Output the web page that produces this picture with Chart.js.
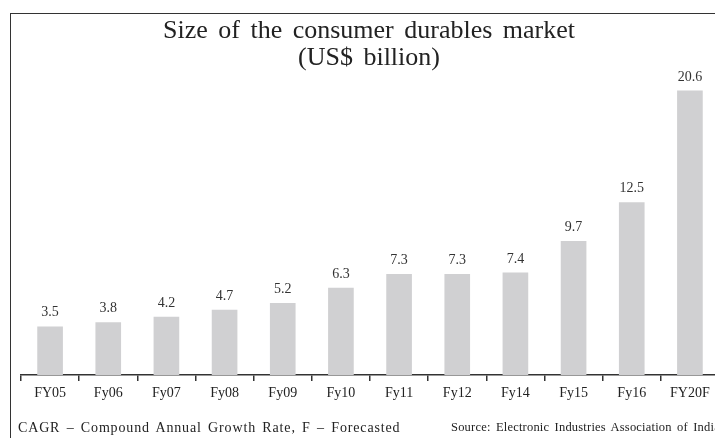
<!DOCTYPE html>
<html>
<head>
<meta charset="utf-8">
<script src="https://cdn.jsdelivr.net/npm/chart.js@4.4.0/dist/chart.umd.min.js"></script>
<style>
  html, body { margin: 0; padding: 0; background: #fff; overflow: hidden; width: 715px; height: 438px; }
  #wrap { position: relative; width: 715px; height: 438px; overflow: hidden; }
  #frame { position: absolute; left: 10px; top: 13px; width: 720px; height: 440px;
           border-left: 1px solid #333; border-top: 1px solid #333; }
  #chartBox { position: absolute; left: 0; top: 0; width: 722px; height: 438px; }
  .title { position: absolute; left: 369px; transform: translateX(-50%); white-space: nowrap;
           font-family: "Liberation Serif", serif; font-size: 26px; color: #222; word-spacing: 4px; }
  .foot { position: absolute; top: 420px; white-space: nowrap;
          font-family: "Liberation Serif", serif; font-size: 14px; color: #222; letter-spacing: 0.85px; word-spacing: 2px; }
</style>
</head>
<body>
<div id="wrap">
  <div id="frame"></div>
  <div id="chartBox"><canvas id="marketChart" width="722" height="438"></canvas></div>
  <div class="title" style="top:15px;">Size of the consumer durables market</div>
  <div class="title" style="top:42px;">(US$ billion)</div>
  <div class="foot" style="left:18px;">CAGR – Compound Annual Growth Rate, F – Forecasted</div>
  <div class="foot" style="left:451px; font-size:12.5px; letter-spacing:0.2px;">Source: Electronic Industries Association of India</div>
</div>
<script>
const years = ['FY05', 'Fy06', 'Fy07', 'Fy08', 'Fy09', 'Fy10', 'Fy11', 'Fy12', 'Fy14', 'Fy15', 'Fy16', 'FY20F'];
const marketSize = [3.5, 3.8, 4.2, 4.7, 5.2, 6.3, 7.3, 7.3, 7.4, 9.7, 12.5, 20.6];

// writes the value above each bar
const valueLabels = {
    id: 'valueLabels',
    afterDatasetsDraw(chart) {
        const ctx = chart.ctx;
        const meta = chart.getDatasetMeta(0);
        ctx.save();
        ctx.font = '14px "Liberation Serif", serif';
        ctx.fillStyle = '#333';
        ctx.textAlign = 'center';
        ctx.textBaseline = 'middle';
        meta.data.forEach((bar, i) => {
            ctx.fillText(marketSize[i].toFixed(1), bar.x, bar.y - 14);
        });
        ctx.restore();
    }
};

const ctx = document.getElementById('marketChart').getContext('2d');
const chart = new Chart(ctx, {
    type: 'bar',
    data: {
        labels: years,
        datasets: [{
            data: marketSize,
            backgroundColor: '#d0d0d2',
            barThickness: 25
        }]
    },
    options: {
        responsive: false,
        animation: false,
        layout: { padding: { left: 21, right: 3, top: 44, bottom: 33 } },
        plugins: {
            legend: { display: false },
            title: { display: false },
            tooltip: { enabled: false }
        },
        scales: {
            x: {
                afterFit(scale) { scale.height = 30; },
                border: { display: true, color: '#333', width: 1.5 },
                grid: { drawOnChartArea: false, drawTicks: true, tickLength: 6, color: '#333', lineWidth: 1.5, offset: true },
                ticks: {
                    color: '#222',
                    padding: 4,
                    maxRotation: 0,
                    font: { family: '"Liberation Serif", serif', size: 14 }
                }
            },
            y: {
                display: false,
                min: 0,
                max: 24
            }
        }
    },
    plugins: [valueLabels]
});
</script>
</body>
</html>
